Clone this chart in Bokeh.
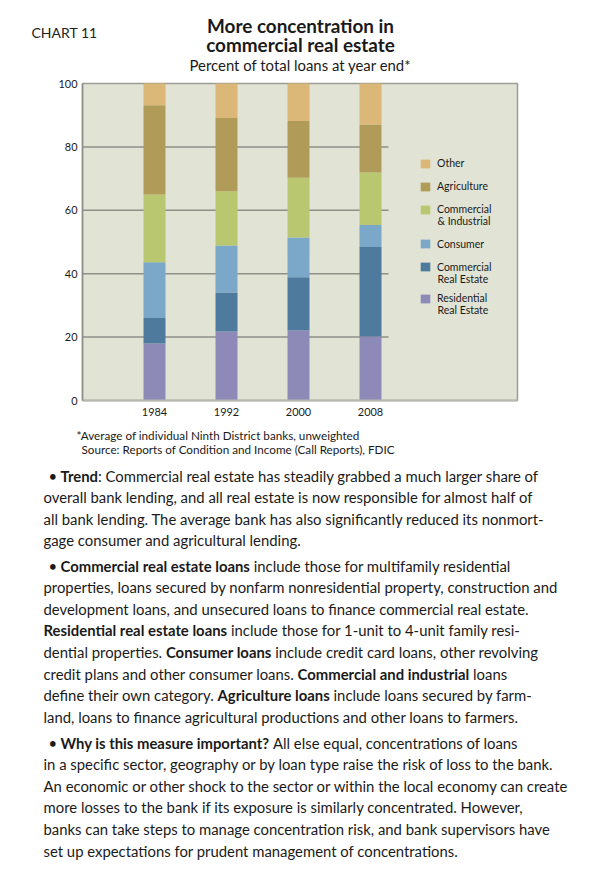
import os
import glob
import subprocess

from bokeh.plotting import figure
from bokeh.models import (Range1d, FixedTicker, Legend, LegendItem, ColumnDataSource,
                          LinearAxis)
from bokeh.embed import file_html
from bokeh.resources import INLINE
from bokeh.core.properties import value

# ---------------- data ----------------
years = ["1984", "1992", "2000", "2008"]
residential = [18.0, 21.8, 22.1, 20.2]
commercial_re = [8.0, 12.3, 16.8, 28.2]
consumer = [17.6, 14.8, 12.5, 7.0]
c_and_i = [21.4, 17.1, 18.9, 16.5]
agriculture = [28.1, 23.1, 17.9, 15.2]
other = [6.9, 10.9, 11.8, 12.9]

series_keys = ["residential", "commercial_re", "consumer", "c_and_i", "agriculture", "other"]
series_labels = [["Residential", "Real Estate"], ["Commercial", "Real Estate"], ["Consumer"],
                 ["Commercial", "& Industrial"], ["Agriculture"], ["Other"]]
series_colors = ["#8e8ab8", "#4e7a9e", "#7ba8c8", "#b9c870", "#b09b59", "#dbb877"]
y_ticks = [0, 20, 40, 60, 80, 100]
grid_levels = [20, 40, 60, 80]

title_lines = ["More concentration in", "commercial real estate"]
subtitle = "Percent of total loans at year end*"
chart_label = "CHART 11"
footnotes = ["*Average of individual Ninth District banks, unweighted",
             "Source: Reports of Condition and Income (Call Reports), FDIC"]

paragraphs = [
    [
        [("Trend", True), (": Commercial real estate has steadily grabbed a much larger share of", False)],
        [("overall bank lending, and all real estate is now responsible for almost half of", False)],
        [("all bank lending. The average bank has also significantly reduced its nonmort-", False)],
        [("gage consumer and agricultural lending.", False)],
    ],
    [
        [("Commercial real estate loans", True), (" include those for multifamily residential", False)],
        [("properties, loans secured by nonfarm nonresidential property, construction and", False)],
        [("development loans, and unsecured loans to finance commercial real estate.", False)],
        [("Residential real estate loans", True), (" include those for 1-unit to 4-unit family resi-", False)],
        [("dential properties. ", False), ("Consumer loans", True), (" include credit card loans, other revolving", False)],
        [("credit plans and other consumer loans. ", False), ("Commercial and industrial", True), (" loans", False)],
        [("define their own category. ", False), ("Agriculture loans", True), (" include loans secured by farm-", False)],
        [("land, loans to finance agricultural productions and other loans to farmers.", False)],
    ],
    [
        [("Why is this measure important?", True), (" All else equal, concentrations of loans", False)],
        [("in a specific sector, geography or by loan type raise the risk of loss to the bank.", False)],
        [("An economic or other shock to the sector or within the local economy can create", False)],
        [("more losses to the bank if its exposure is similarly concentrated. However,", False)],
        [("banks can take steps to manage concentration risk, and bank supervisors have", False)],
        [("set up expectations for prudent management of concentrations.", False)],
    ],
]

FONT = "Lato"
TEXT_COLOR = "#1a1a1a"
BG = "#e1e4d5"


# ---------------- text measuring ----------------
def lato_files():
    cands = []
    try:
        out = subprocess.run(["fc-list", ":family=Lato", "file"], capture_output=True,
                             text=True, timeout=10).stdout
        cands += [ln.split(":")[0].strip() for ln in out.splitlines() if ln.strip()]
    except Exception:
        pass
    for d in ["/usr/share/fonts", "/usr/local/share/fonts", os.path.expanduser("~/.fonts"),
              os.path.expanduser("~/.local/share/fonts")]:
        try:
            cands += [f for f in glob.glob(os.path.join(d, "**", "*"), recursive=True)
                      if "lato" in os.path.basename(f).lower()]
        except Exception:
            pass
    reg = bold = None
    for f in cands:
        b = os.path.basename(f).lower()
        if not (b.endswith(".ttf") or b.endswith(".otf")):
            continue
        stem = b.rsplit(".", 1)[0]
        if stem.endswith("-regular") or stem.endswith("-reg"):
            reg = reg or f
        elif stem.endswith("-bold") or stem.endswith("-bol"):
            bold = bold or f
    return reg, bold


_font_cache = {}
try:
    from PIL import ImageFont
    _r, _b = lato_files()
    if _r:
        _font_cache[False] = ImageFont.truetype(_r, 200)
    if _b:
        _font_cache[True] = ImageFont.truetype(_b, 200)
except Exception:
    pass

_HR = dict(zip(" !\"#$%&'()*+,-./0123456789:;<=>?@",
               [278, 278, 355, 556, 556, 889, 667, 191, 333, 333, 389, 584, 278, 333, 278, 278]
               + [556] * 10 + [278, 278, 584, 584, 584, 556, 1015]))
_HR.update(zip("ABCDEFGHIJKLMNOPQRSTUVWXYZ",
               [667, 667, 722, 722, 667, 611, 778, 722, 278, 500, 667, 556, 833, 722, 778, 667,
                778, 722, 667, 611, 722, 667, 944, 667, 667, 611]))
_HR.update(zip("abcdefghijklmnopqrstuvwxyz",
               [556, 556, 500, 556, 556, 278, 556, 556, 222, 222, 500, 222, 833, 556, 556, 556,
                556, 333, 500, 278, 556, 500, 722, 500, 500, 500]))
_HB = dict(_HR)
_HB.update(zip("abcdefghijklmnopqrstuvwxyz",
               [556, 611, 556, 611, 556, 333, 611, 611, 278, 278, 556, 278, 889, 611, 611, 611,
                611, 389, 556, 333, 611, 556, 778, 556, 556, 500]))
_HB.update({":": 333, "?": 611, " ": 278})


def measure(s, bold, size):
    f = _font_cache.get(bold)
    if f is not None:
        return f.getlength(s) * size / 200.0
    tab = _HB if bold else _HR
    tot = 0.0
    for ch in s:
        w = tab.get(ch, 556)
        tot += 200 if ch == " " else w * 0.9
    return tot * size / 1000.0


def fit(s, bold, target, lo=8, hi=20):
    w = measure(s, bold, 10)
    sz = 10 * target / w if w > 0 else 12
    return max(lo, min(hi, sz))


# ---------------- one canvas; page-pixel ranges for all text ----------------
W, H = 600, 884
p = figure(width=W, height=H, x_range=Range1d(0, W), y_range=Range1d(H, 0),
           output_backend="svg", toolbar_location=None, x_axis_type=None, y_axis_type=None,
           title=None, min_border=0, min_border_left=0, min_border_right=0,
           min_border_top=0, min_border_bottom=0)
p.grid.visible = False
p.outline_line_color = None
p.background_fill_color = "white"
p.border_fill_color = "white"

# chart area in page pixels: left 82, right 517, top 83 (=100), bottom 400 (=0)
step = 72.0
ppu = (400 - 83) / 100.0
frame_w_units = (517 - 82) / step
p.extra_x_ranges = {"cx": Range1d(-82 / step, (W - 82) / step)}
p.extra_y_ranges = {"cy": Range1d(-(H - 400) / ppu, 100 + 83 / ppu)}
CR = dict(x_range_name="cx", y_range_name="cy")

# plot-area background with its top/right border
p.quad(left=[0], right=[frame_w_units], bottom=[y_ticks[0]], top=[y_ticks[-1]],
       fill_color=BG, line_color="#9c9d95", line_width=1.5, **CR)

p.segment(x0=[0] * len(grid_levels), y0=grid_levels, x1=[4.25] * len(grid_levels),
          y1=grid_levels, line_color="#8e8f87", line_width=1.5, **CR)

x_pos = [1, 2, 3, 4]
src = ColumnDataSource(dict(x=x_pos, year=years, residential=residential,
                            commercial_re=commercial_re, consumer=consumer, c_and_i=c_and_i,
                            agriculture=agriculture, other=other))
renderers = p.vbar_stack(series_keys, x="x", width=22 / step, source=src,
                         fill_color=series_colors, line_color=None, **CR)

tick_size = fit("100", False, 19)
xaxis = LinearAxis(fixed_location=0, bounds=(0, frame_w_units),
                   ticker=FixedTicker(ticks=x_pos),
                   major_label_overrides={xp: yr for xp, yr in zip(x_pos, years)}, **CR)
yaxis = LinearAxis(fixed_location=0, bounds=(y_ticks[0], y_ticks[-1]),
                   ticker=FixedTicker(ticks=y_ticks), **CR)
for ax in (xaxis, yaxis):
    ax.major_tick_line_color = None
    ax.minor_tick_line_color = None
    ax.major_tick_out = 0
    ax.major_tick_in = 0
    ax.major_label_text_font = FONT
    ax.major_label_text_font_size = f"{tick_size:.1f}px"
    ax.major_label_text_color = TEXT_COLOR
xaxis.axis_line_color = "#b6b7ae"
xaxis.axis_line_width = 2
xaxis.major_label_standoff = 7
yaxis.axis_line_color = "#8d8e86"
yaxis.axis_line_width = 1.5
yaxis.major_label_standoff = 5
p.add_layout(xaxis, "below")
p.add_layout(yaxis, "left")

# legend: one Legend per entry so that each swatch sits level with its first text line
leg_size = fit("Residential", False, 50)
leg_first_y = [298, 266.5, 243.5, 209, 186, 163]   # same order as series_keys
leg_swatch_x = 419
second_x, second_y, second_t = [], [], []
for r, labs, yc in zip(renderers, series_labels, leg_first_y):
    lg = Legend(items=[LegendItem(label=labs[0], renderers=[r])],
                location=(leg_swatch_x, H - (yc + 6)), padding=0, margin=0,
                glyph_width=12, glyph_height=11, label_height=12, label_standoff=6,
                label_text_font=FONT, label_text_font_size=f"{leg_size:.1f}px",
                label_text_color=TEXT_COLOR, background_fill_alpha=0,
                border_line_color=None)
    p.add_layout(lg)
    for k, extra in enumerate(labs[1:]):
        second_x.append(leg_swatch_x + 12 + 6)
        second_y.append(yc + 11.5 * (k + 1))
        second_t.append(extra)
p.text(x=second_x, y=second_y, text=second_t, text_font=value(FONT),
       text_font_size=f"{leg_size:.1f}px", text_align="left", text_baseline="middle",
       text_color=TEXT_COLOR)

# ---------------- header ----------------
title_size = fit(title_lines[0], True, 187)
p.text(x=[300, 300], y=[25, 44], text=title_lines, text_font=value(FONT),
       text_font_style="bold", text_font_size=f"{title_size:.1f}px", text_align="center",
       text_baseline="middle", text_color=TEXT_COLOR)
sub_size = fit(subtitle, False, 221)
p.text(x=[300], y=[64], text=[subtitle], text_font=value(FONT),
       text_font_size=f"{sub_size:.1f}px", text_align="center", text_baseline="middle",
       text_color=TEXT_COLOR)
chart_size = fit(chart_label, False, 70, hi=14)
p.text(x=[31], y=[32], text=[chart_label], text_font=value(FONT),
       text_font_size=f"{chart_size:.1f}px", text_align="left", text_baseline="middle",
       text_color="#222222")

# ---------------- footnotes ----------------
foot_size = fit(footnotes[0], False, 282)
p.text(x=[76, 81], y=[434, 448], text=footnotes, text_font=value(FONT),
       text_font_size=f"{foot_size:.1f}px", text_align="left", text_baseline="middle",
       text_color=TEXT_COLOR)

# ---------------- body text ----------------
body_size = fit(paragraphs[1][1][0][0], False, 514, lo=12, hi=16)
left = 43
bullet_x = 48
first_x = 60
line_gap = 21.6
para_tops = [475, 565, 742]

norm = dict(x=[], y=[], t=[])
bold = dict(x=[], y=[], t=[])
for ptop, para in zip(para_tops, paragraphs):
    for li, segs in enumerate(para):
        y = ptop + li * line_gap
        x = first_x if li == 0 else left
        for txt, is_bold in segs:
            stripped = txt.lstrip(" ")
            lead = txt[: len(txt) - len(stripped)]
            sx = x + measure(lead, is_bold, body_size)
            tgt = bold if is_bold else norm
            tgt["x"].append(sx)
            tgt["y"].append(y)
            tgt["t"].append(stripped.rstrip(" "))
            x = x + measure(txt, is_bold, body_size)

p.text(x=norm["x"], y=norm["y"], text=norm["t"], text_font=value(FONT),
       text_font_size=f"{body_size:.2f}px", text_align="left", text_baseline="middle",
       text_color=TEXT_COLOR)
p.text(x=bold["x"], y=bold["y"], text=bold["t"], text_font=value(FONT),
       text_font_style="bold", text_font_size=f"{body_size:.2f}px", text_align="left",
       text_baseline="middle", text_color=TEXT_COLOR)
p.text(x=[bullet_x] * len(para_tops), y=para_tops, text=["\u2022"] * len(para_tops),
       text_font=value(FONT), text_font_size=f"{body_size:.2f}px", text_align="left",
       text_baseline="middle", text_color=TEXT_COLOR)

open("out.html", "w").write(file_html(p, INLINE))
